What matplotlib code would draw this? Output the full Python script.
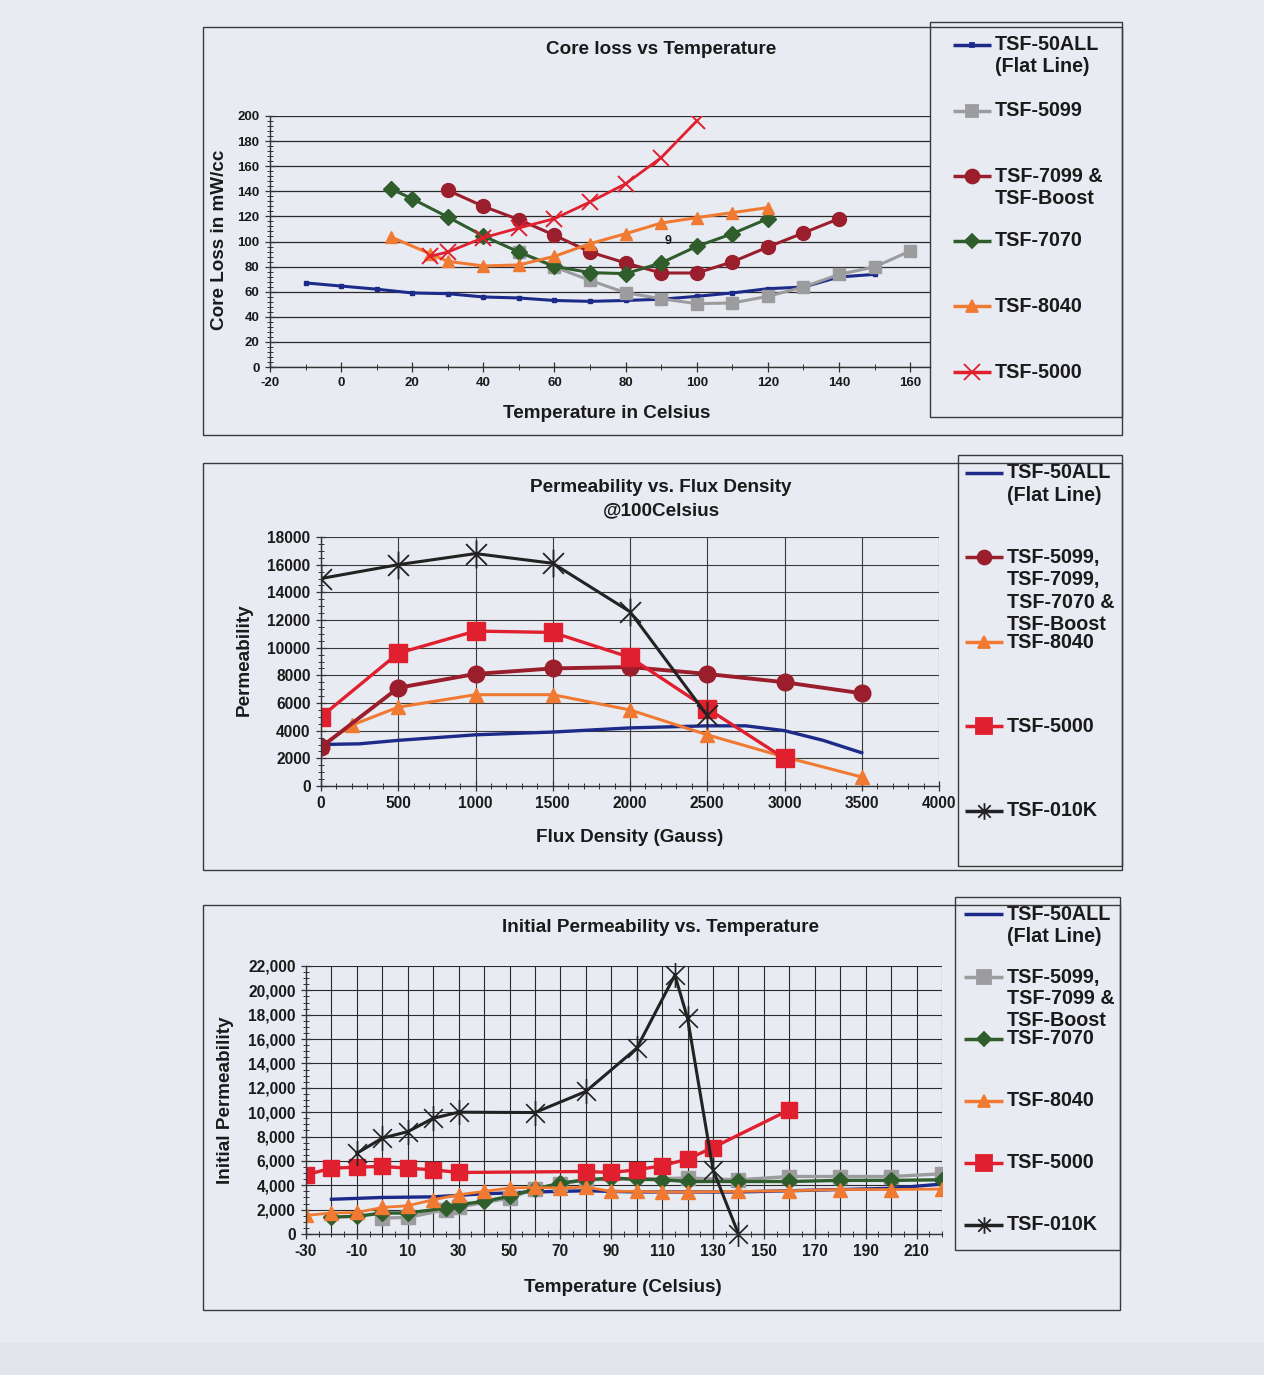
import matplotlib
matplotlib.use('Agg')
import matplotlib.pyplot as plt
from matplotlib.patches import Rectangle
from matplotlib.path import Path
from matplotlib.ticker import MultipleLocator, StrMethodFormatter
import numpy as np

plt.rcParams.update({'font.family': ['Liberation Sans', 'DejaVu Sans'], 'font.weight': 'bold',
                     'axes.labelweight': 'bold', 'text.color': '#1a1a1a',
                     'axes.unicode_minus': False})

W, H = 1264, 1375
BG = '#e9ebf3'
INK = '#1a1a1a'

C_BLUE = '#1c2a8a'
C_GREY = '#9c9c9e'
C_DRED = '#9a1e2c'
C_GREEN = '#2f5d2c'
C_ORANGE = '#f07a32'
C_RED = '#e0202e'
C_BLACK = '#222222'
# Excel style star: an X with a vertical bar through it
STAR = Path([(0, -1), (0, 1), (-0.75, -0.75), (0.75, 0.75), (-0.75, 0.75), (0.75, -0.75)],
            [Path.MOVETO, Path.LINETO, Path.MOVETO, Path.LINETO, Path.MOVETO, Path.LINETO])

# ---------- chart 1: core loss vs temperature ----------
cl_50all_t = [-10, 0, 10, 20, 30, 40, 50, 60, 70, 80, 90, 100, 110, 120, 130, 140, 150]
cl_50all = [67, 64.5, 62, 59, 58.4, 55.8, 55, 53, 52.3, 53, 54, 56.3, 59, 62.4, 63.7, 71.7, 73.8]
cl_5099_t = [50, 60, 70, 80, 90, 100, 110, 120, 130, 140, 150, 160]
cl_5099 = [91.6, 79.7, 69, 59.2, 54.4, 50.5, 51, 56.3, 63.7, 73.8, 79.7, 92.4]
cl_7099_t = [30, 40, 50, 60, 70, 80, 90, 100, 110, 120, 130, 140]
cl_7099 = [140.8, 128, 117.4, 105, 91.6, 82.9, 74.9, 74.9, 83.7, 95.6, 106.8, 118.2]
cl_7070_t = [14, 20, 30, 40, 50, 60, 70, 80, 90, 100, 110, 120]
cl_7070 = [142, 134, 119.5, 104.4, 91.6, 80.2, 75.2, 74.4, 82.9, 96.1, 106.2, 118.2]
cl_8040_t = [14, 25, 30, 40, 50, 60, 70, 80, 90, 100, 110, 120]
cl_8040 = [103.6, 90.3, 84.2, 80.5, 81.3, 88.2, 98.3, 106.2, 114.7, 119, 123, 127]
cl_5000_t = [25, 30, 40, 50, 60, 70, 80, 90, 100]
cl_5000 = [88.2, 91.6, 103, 110.8, 118.2, 131.5, 146, 166.8, 196]

# ---------- chart 2: permeability vs flux density ----------
fd_50all_b = [0, 250, 500, 1000, 1500, 2000, 2500, 2750, 3000, 3250, 3500]
fd_50all = [3000, 3050, 3300, 3700, 3900, 4200, 4350, 4350, 4000, 3300, 2400]
fd_5099_b = [0, 500, 1000, 1500, 2000, 2500, 3000, 3500]
fd_5099 = [2800, 7100, 8100, 8500, 8600, 8100, 7500, 6700]
fd_8040_b = [0, 200, 500, 1000, 1500, 2000, 2500, 3000, 3500]
fd_8040 = [2900, 4400, 5700, 6600, 6600, 5500, 3700, 2100, 650]
fd_5000_b = [0, 500, 1000, 1500, 2000, 2500, 3000]
fd_5000 = [5000, 9600, 11200, 11100, 9300, 5600, 2000]
fd_010k_b = [0, 500, 1000, 1500, 2000, 2500]
fd_010k = [15000, 16000, 16800, 16100, 12600, 5100]

# ---------- chart 3: initial permeability vs temperature ----------
ip_50all_t = [-20, 0, 20, 40, 60, 80, 100, 120, 140, 160, 180, 200, 220]
ip_50all = [2850, 3000, 3050, 3300, 3450, 3550, 3450, 3450, 3450, 3550, 3650, 3750, 4100]
ip_5099_t = [0, 10, 25, 30, 50, 60, 70, 80, 120, 140, 160, 180, 200, 220]
ip_5099 = [1310, 1360, 2000, 2210, 2950, 3690, 4100, 4450, 4590, 4450, 4720, 4720, 4720, 4940]
ip_7070_t = [-20, -10, 0, 10, 25, 30, 40, 50, 60, 70, 80, 90, 100, 110, 120, 140, 160, 180, 200, 220]
ip_7070 = [1390, 1450, 1720, 1720, 2130, 2400, 2680, 3090, 3690, 4180, 4450, 4590, 4500, 4450,
           4310, 4310, 4310, 4400, 4400, 4450]
ip_8040_t = [-30, -20, -10, 0, 10, 20, 30, 40, 50, 60, 70, 80, 90, 100, 110, 120, 140, 160, 180, 200, 220]
ip_8040 = [1530, 1720, 1770, 2180, 2320, 2810, 3220, 3500, 3770, 3820, 3770, 3850, 3500, 3500,
           3450, 3450, 3500, 3550, 3650, 3650, 3690]
ip_5000_t = [-30, -20, -10, 0, 10, 20, 30, 80, 90, 100, 110, 120, 130, 160]
ip_5000 = [4860, 5400, 5490, 5550, 5400, 5270, 5050, 5130, 5050, 5270, 5600, 6150, 7100, 10190]
ip_010k_t = [-10, 0, 10, 20, 30, 60, 80, 100, 115, 120, 130, 140]
ip_010k = [6630, 7870, 8400, 9500, 10000, 9970, 11700, 15250, 21250, 17700, 5270, 0]


fig = plt.figure(figsize=(W / 100, H / 100), dpi=100, facecolor=BG)


def ax_px(x0, y0, x1, y1, **kw):
    return fig.add_axes([x0 / W, 1 - y1 / H, (x1 - x0) / W, (y1 - y0) / H], **kw)


def frame_px(x0, y0, x1, y1, lw=1.0):
    fig.add_artist(Rectangle((x0 / W, 1 - y1 / H), (x1 - x0) / W, (y1 - y0) / H,
                             transform=fig.transFigure, fill=False, edgecolor='#3a3a3a', lw=lw))


def ftext(x, y, s, **kw):
    fig.text(x / W, 1 - y / H, s, ha='center', va='center', color=INK, **kw)


def style_axes(ax, size):
    ax.set_facecolor('none')
    for s in ['top', 'right']:
        ax.spines[s].set_visible(False)
    for s in ['left', 'bottom']:
        ax.spines[s].set_color('#333333')
        ax.spines[s].set_linewidth(1.0)
    ax.tick_params(which='major', direction='inout', length=7, width=0.9, labelsize=size,
                   colors='#333333', labelcolor=INK, pad=4)
    ax.tick_params(which='minor', direction='inout', length=5, width=0.7, colors='#333333')
    for lab in ax.get_xticklabels() + ax.get_yticklabels():
        lab.set_fontweight('bold')


def legend_px(x0, y0, x1, y1, entries, hx0, hx1, tx, step):
    frame_px(x0, y0, x1, y1)
    lg = ax_px(x0, y0, x1, y1)
    lg.set_xlim(x0, x1)
    lg.set_ylim(y1, y0)
    lg.axis('off')
    for y, label, color, marker, ms, lw in entries:
        lg.plot([hx0, hx1], [y, y], color=color, lw=lw, solid_capstyle='butt')
        if marker is not None:
            lg.plot([(hx0 + hx1) / 2], [y], marker=marker, color=color, ms=ms, mew=1.3)
        for i, line in enumerate(label.split('\n')):
            lg.text(tx, y + i * step, line, ha='left', va='center', fontsize=14.2,
                    fontweight='bold', color=INK)


TS = 13.6  # title / axis label size

# ================= chart 1 =================
frame_px(203, 27, 1122, 435)
ax1 = ax_px(270, 116, 930, 367)
ax1.set_xlim(-20, 165.6)
ax1.set_ylim(0, 200)
ax1.xaxis.set_major_locator(MultipleLocator(20))
ax1.xaxis.set_minor_locator(MultipleLocator(10))
ax1.yaxis.set_major_locator(MultipleLocator(20))
ax1.yaxis.set_minor_locator(MultipleLocator(4))
ax1.grid(axis='y', which='major', color='#2a2a2a', lw=0.9)
style_axes(ax1, 9.5)
ax1.set_xticks(np.arange(-20, 161, 20))

ax1.plot(cl_50all_t, cl_50all, color=C_BLUE, lw=2.2, marker='s', ms=3)
ax1.plot(cl_5099_t, cl_5099, color=C_GREY, lw=2.2, marker='s', ms=9)
ax1.plot(cl_7099_t, cl_7099, color=C_DRED, lw=2.2, marker='o', ms=10)
ax1.plot(cl_7070_t, cl_7070, color=C_GREEN, lw=2.2, marker='D', ms=8)
ax1.plot(cl_8040_t, cl_8040, color=C_ORANGE, lw=2.2, marker='^', ms=9)
ax1.plot(cl_5000_t, cl_5000, color=C_RED, lw=2.0, marker='x', ms=12, mew=1.4)
ax1.text(92, 100, '9', fontsize=9, ha='center', va='center', color=INK)

ftext(661, 49, 'Core loss vs Temperature', fontsize=TS, fontweight='bold')
ftext(607, 414, 'Temperature in Celsius', fontsize=TS, fontweight='bold')
ftext(219, 240, 'Core Loss in mW/cc', fontsize=TS, fontweight='bold', rotation=90)

legend_px(930, 22, 1122, 417, [
    (45, 'TSF-50ALL\n(Flat Line)', C_BLUE, 's', 3, 2.5),
    (111, 'TSF-5099', C_GREY, 's', 9, 2.5),
    (176, 'TSF-7099 &\nTSF-Boost', C_DRED, 'o', 10, 2.5),
    (241, 'TSF-7070', C_GREEN, 'D', 7, 2.5),
    (306, 'TSF-8040', C_ORANGE, '^', 9, 2.5),
    (372, 'TSF-5000', C_RED, 'x', 11, 2.5),
], 953, 991, 995, 22)

# ================= chart 2 =================
frame_px(203, 463, 1122, 870)
ax2 = ax_px(321, 537, 939, 786)
ax2.set_xlim(0, 4000)
ax2.set_ylim(0, 18000)
ax2.xaxis.set_major_locator(MultipleLocator(500))
ax2.xaxis.set_minor_locator(MultipleLocator(100))
ax2.yaxis.set_major_locator(MultipleLocator(2000))
ax2.yaxis.set_minor_locator(MultipleLocator(500))
ax2.grid(which='major', color='#3a3a3a', lw=0.8)
style_axes(ax2, 11.2)

ax2.plot(fd_50all_b, fd_50all, color=C_BLUE, lw=2.4)
ax2.plot(fd_8040_b, fd_8040, color=C_ORANGE, lw=2.2, marker='^', ms=10)
ax2.plot(fd_5099_b, fd_5099, color=C_DRED, lw=2.8, marker='o', ms=12)
ax2.plot(fd_5000_b, fd_5000, color=C_RED, lw=2.4, marker='s', ms=13)
ax2.plot(fd_010k_b, fd_010k, color=C_BLACK, lw=2.2, marker=STAR, ms=20, mew=1.3)

ftext(661, 487, 'Permeability vs. Flux Density', fontsize=TS, fontweight='bold')
ftext(661, 511, '@100Celsius', fontsize=TS, fontweight='bold')
ftext(630, 838, 'Flux Density (Gauss)', fontsize=TS, fontweight='bold')
ftext(244, 660, 'Permeability', fontsize=TS, fontweight='bold', rotation=90)

legend_px(958, 455, 1122, 866, [
    (473, 'TSF-50ALL\n(Flat Line)', C_BLUE, None, 0, 2.5),
    (557, 'TSF-5099,\nTSF-7099,\nTSF-7070 &\nTSF-Boost', C_DRED, 'o', 10, 2.5),
    (642, 'TSF-8040', C_ORANGE, '^', 9, 2.5),
    (726, 'TSF-5000', C_RED, 's', 11, 2.5),
    (811, 'TSF-010K', C_BLACK, STAR, 12, 2.5),
], 965, 1003, 1007, 22.5)

# ================= chart 3 =================
frame_px(203, 905, 1120, 1310)
ax3 = ax_px(306, 966, 942, 1234)
ax3.set_xlim(-30, 220)
ax3.set_ylim(0, 22000)
ax3.xaxis.set_major_locator(MultipleLocator(20, offset=10))
ax3.xaxis.set_minor_locator(MultipleLocator(5))
ax3.yaxis.set_major_locator(MultipleLocator(2000))
ax3.yaxis.set_minor_locator(MultipleLocator(500))
ax3.yaxis.set_major_formatter(StrMethodFormatter('{x:,.0f}'))
ax3.grid(axis='y', which='major', color='#2a2a2a', lw=0.8)
ax3.vlines(np.arange(-20, 221, 10), 0, 22000, color='#2a2a2a', lw=0.8, zorder=0.5)
style_axes(ax3, 11.2)

ax3.plot(ip_50all_t, ip_50all, color=C_BLUE, lw=2.4)
ax3.plot(ip_5099_t, ip_5099, color=C_GREY, lw=2.4, marker='s', ms=10)
ax3.plot(ip_7070_t, ip_7070, color=C_GREEN, lw=2.4, marker='D', ms=8)
ax3.plot(ip_8040_t, ip_8040, color=C_ORANGE, lw=2.0, marker='^', ms=10)
ax3.plot(ip_5000_t, ip_5000, color=C_RED, lw=2.4, marker='s', ms=11)
ax3.plot(ip_010k_t, ip_010k, color=C_BLACK, lw=2.2, marker=STAR, ms=18, mew=1.2, clip_on=False)

ftext(661, 928, 'Initial Permeability vs. Temperature', fontsize=TS, fontweight='bold')
ftext(623, 1287, 'Temperature (Celsius)', fontsize=TS, fontweight='bold')
ftext(226, 1100, 'Initial Permeability', fontsize=TS, fontweight='bold', rotation=90)

legend_px(955, 897, 1120, 1250, [
    (914, 'TSF-50ALL\n(Flat Line)', C_BLUE, None, 0, 2.5),
    (977, 'TSF-5099,\nTSF-7099 &\nTSF-Boost', C_GREY, 's', 10, 2.5),
    (1039, 'TSF-7070', C_GREEN, 'D', 7, 2.5),
    (1101, 'TSF-8040', C_ORANGE, '^', 9, 2.5),
    (1163, 'TSF-5000', C_RED, 's', 11, 2.5),
    (1225, 'TSF-010K', C_BLACK, STAR, 12, 2.5),
], 964, 1003, 1007, 22)

# scanner bed strip along the bottom
fig.add_artist(Rectangle((0, 0), 1, 32 / H, transform=fig.transFigure,
                         facecolor='#e2e6ec', edgecolor='none'))

fig.savefig('out.png', dpi=100, facecolor=BG)
